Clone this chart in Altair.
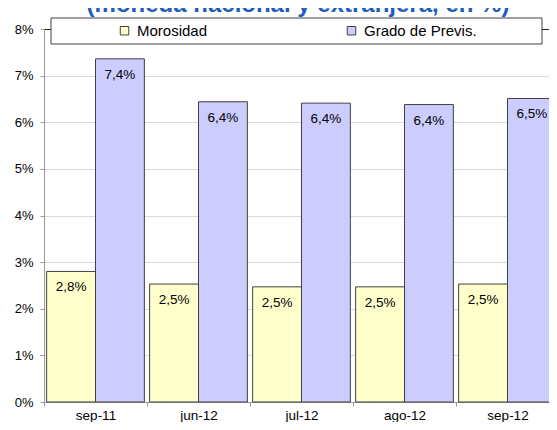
import altair as alt
import pandas as pd

categories = ["sep-11", "jun-12", "jul-12", "ago-12", "sep-12"]
series = ["Morosidad", "Grado de Previs."]
morosidad = [2.80, 2.53, 2.47, 2.47, 2.53]
grado_previs = [7.36, 6.44, 6.41, 6.38, 6.51]
y_ticks = [0, 1, 2, 3, 4, 5, 6, 7, 8]
title_text = "(moneda nacional y extranjera, en %)"

colors = ["#FFFFCC", "#CCCCFF"]
FONT = "Liberation Sans"

rows = []
for i, c in enumerate(categories):
    rows.append({"cat": c, "series": series[0], "value": morosidad[i]})
    rows.append({"cat": c, "series": series[1], "value": grado_previs[i]})
df = pd.DataFrame(rows)

x_enc = alt.X(
    "cat:N",
    sort=categories,
    scale=alt.Scale(paddingInner=0, paddingOuter=0),
    axis=alt.Axis(
        title=None,
        labelAngle=0,
        labelFont=FONT,
        labelFontSize=13.5,
        labelColor="black",
        labelPadding=2,
        tickBand="extent",
        tickColor="#999999",
        tickSize=4,
        domainColor="#999999",
        grid=False,
    ),
)
xoff_enc = alt.XOffset(
    "series:N", sort=series, scale=alt.Scale(paddingInner=0, paddingOuter=0.054)
)
y_enc = alt.Y(
    "value:Q",
    scale=alt.Scale(domain=[0, 8], nice=False, zero=True),
    axis=alt.Axis(
        title=None,
        values=y_ticks,
        labelExpr="datum.value + '%'",
        labelFont=FONT,
        labelFontSize=13,
        labelColor="black",
        labelPadding=7,
        tickColor="#999999",
        tickSize=4,
        domainColor="#999999",
        grid=True,
        gridColor={"condition": {"test": "datum.value === 8", "value": "#222222"}, "value": "#d9d9d9"},
    ),
)

bars = alt.Chart(df).mark_bar(stroke="#404040", strokeWidth=1).encode(
    x=x_enc,
    xOffset=xoff_enc,
    y=y_enc,
    color=alt.Color(
        "series:N",
        sort=series,
        scale=alt.Scale(domain=series, range=colors),
        legend=alt.Legend(
            orient="none",
            legendX=73,
            legendY=-6,
            direction="horizontal",
            title=None,
            symbolType="square",
            symbolSize=72,
            symbolStrokeColor="#404040",
            symbolStrokeWidth=1,
            labelFont=FONT,
            labelFontSize=15,
            labelColor="black",
            labelOffset=5,
            columnPadding=136,
            padding=0,
        ),
    ),
)

labels = alt.Chart(df).transform_calculate(
    lbl="replace(format(datum.value, '.1f'), '.', ',') + '%'"
).mark_text(baseline="top", dy=9, font=FONT, fontSize=13.5, color="black").encode(
    x=alt.X("cat:N", sort=categories),
    xOffset=alt.XOffset("series:N", sort=series),
    y=alt.Y("value:Q"),
    text="lbl:N",
)

legend_box = alt.Chart(pd.DataFrame({"k": [0]})).mark_rect(
    fill="white", stroke="#404040", strokeWidth=1
).encode(
    x=alt.value(7), x2=alt.value(498), y=alt.value(-11), y2=alt.value(15)
)

title_mark = alt.Chart(pd.DataFrame({"t": [title_text]})).mark_text(
    font=FONT, fontWeight="bold", fontSize=24, color="#1F5BC0",
    align="center", baseline="alphabetic",
).encode(
    x=alt.value(254), y=alt.value(-17), text="t:N"
)

chart = alt.layer(bars, labels, legend_box, title_mark).properties(
    width=515,
    height=373,
    padding={"left": 36, "top": 21, "right": -10, "bottom": 20},
    autosize=alt.AutoSizeParams(type="none"),
).configure_view(stroke=None).configure(background="white")

chart.save("out.html", embed_options={"renderer": "svg", "actions": False})
